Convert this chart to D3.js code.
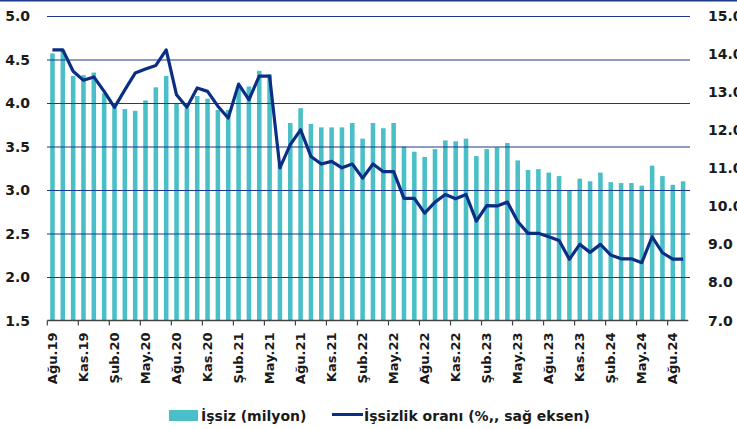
<!DOCTYPE html>
<html>
<head>
<meta charset="utf-8">
<script src="https://cdn.jsdelivr.net/npm/d3@7"></script>
<style>
  body { margin: 0; background: #fff; }
  svg { display: block; font-family: "DejaVu Sans", sans-serif; }
</style>
</head>
<body>
<script>
// months, Ağu.19 .. Eyl.24
var months = [
    "Ağu.19", "Eyl.19", "Eki.19", "Kas.19", "Ara.19", "Oca.20", "Şub.20", "Mar.20", "Nis.20", "May.20", "Haz.20", "Tem.20",
    "Ağu.20", "Eyl.20", "Eki.20", "Kas.20", "Ara.20", "Oca.21", "Şub.21", "Mar.21", "Nis.21", "May.21", "Haz.21", "Tem.21",
    "Ağu.21", "Eyl.21", "Eki.21", "Kas.21", "Ara.21", "Oca.22", "Şub.22", "Mar.22", "Nis.22", "May.22", "Haz.22", "Tem.22",
    "Ağu.22", "Eyl.22", "Eki.22", "Kas.22", "Ara.22", "Oca.23", "Şub.23", "Mar.23", "Nis.23", "May.23", "Haz.23", "Tem.23",
    "Ağu.23", "Eyl.23", "Eki.23", "Kas.23", "Ara.23", "Oca.24", "Şub.24", "Mar.24", "Nis.24", "May.24", "Haz.24", "Tem.24",
    "Ağu.24", "Eyl.24"
];

// unemployed, million (left axis)
var unemployed = [
    4.57, 4.61, 4.31, 4.32, 4.35, 4.11, 3.95, 3.93, 3.91, 4.03, 4.18, 4.31,
    4.00, 3.94, 4.08, 4.05, 3.92, 3.92, 4.20, 4.19, 4.37, 4.33, 3.30, 3.77,
    3.94, 3.76, 3.72, 3.72, 3.72, 3.77, 3.59, 3.77, 3.71, 3.77, 3.50, 3.44,
    3.38, 3.47, 3.57, 3.56, 3.59, 3.39, 3.47, 3.49, 3.54, 3.34, 3.23, 3.24,
    3.20, 3.16, 2.99, 3.13, 3.10, 3.20, 3.09, 3.08, 3.08, 3.05, 3.28, 3.16,
    3.06, 3.10
];

// unemployment rate, % (right axis)
var rate = [
    14.11, 14.11, 13.55, 13.31, 13.40, 13.02, 12.60, 13.06, 13.50, 13.61, 13.70, 14.11,
    12.93, 12.60, 13.11, 13.02, 12.63, 12.32, 13.21, 12.80, 13.42, 13.42, 11.01, 11.62,
    12.01, 11.31, 11.11, 11.18, 11.01, 11.11, 10.74, 11.11, 10.91, 10.91, 10.21, 10.21,
    9.82, 10.11, 10.31, 10.20, 10.31, 9.61, 10.02, 10.01, 10.11, 9.60, 9.29, 9.29,
    9.20, 9.10, 8.61, 9.00, 8.79, 9.00, 8.72, 8.62, 8.62, 8.52, 9.20, 8.78,
    8.61, 8.61
];

var leftTicks = [1.5, 2.0, 2.5, 3.0, 3.5, 4.0, 4.5, 5.0];
var rightTicks = [7, 8, 9, 10, 11, 12, 13, 14, 15];

var width = 737,
    height = 429;

var barColor = "#4bbfc7",
    lineColor = "#0a2e84",
    gridColor = "#1c3a8c";

var svg = d3.select("body").append("svg")
    .attr("width", width)
    .attr("height", height);

var x = d3.scaleBand()
    .domain(months)
    .range([47.3, 688.3])
    .paddingInner(0.56)
    .paddingOuter(0.28);

var yL = d3.scaleLinear().domain([1.5, 5]).range([320.5, 16]);
var yR = d3.scaleLinear().domain([7, 15]).range([320.5, 16]);

// top border
svg.append("line")
    .attr("x1", 0).attr("x2", width)
    .attr("y1", 0.5).attr("y2", 0.5)
    .style("stroke", gridColor)
    .style("stroke-width", 2);

// bars
var data = months.map(function(m, i) {
    return { month: m, u: unemployed[i], r: rate[i] };
});

svg.selectAll("rect.bar")
    .data(data)
    .enter().append("rect")
    .attr("class", "bar")
    .attr("x", function(d) { return x(d.month); })
    .attr("width", x.bandwidth())
    .attr("y", function(d) { return yL(d.u); })
    .attr("height", function(d) { return yL(1.5) - yL(d.u); })
    .style("fill", barColor);

// gridlines over the bars
svg.append("g")
    .attr("transform", "translate(47,0)")
    .call(d3.axisLeft(yL).tickValues(leftTicks.slice(1)).tickSize(-643).tickFormat(""))
    .call(function(g) {
        g.select(".domain").remove();
        g.selectAll(".tick line")
            .style("stroke", gridColor)
            .style("stroke-width", 1.2);
    });

// left labels
svg.append("g")
    .selectAll("text")
    .data(leftTicks)
    .enter().append("text")
    .attr("x", 30)
    .attr("y", function(d) { return yL(d); })
    .attr("dy", "0.36em")
    .attr("text-anchor", "end")
    .attr("font-size", "14px")
    .attr("font-weight", "bold")
    .attr("fill", "#1a1a1a")
    .text(function(d) { return d3.format(".1f")(d); });

// right labels (cut at the right edge, like the original)
svg.append("g")
    .selectAll("text")
    .data(rightTicks)
    .enter().append("text")
    .attr("x", 708)
    .attr("y", function(d) { return yR(d); })
    .attr("dy", "0.36em")
    .attr("text-anchor", "start")
    .attr("font-size", "14px")
    .attr("font-weight", "bold")
    .attr("fill", "#1a1a1a")
    .text(function(d) { return d3.format(".1f")(d); });

// bottom axis, ticks between categories every 3 months
var tickMonths = months.filter(function(m, i) { return i % 3 === 0; });

var xAxis = svg.append("g")
    .attr("transform", "translate(0,320.5)");

xAxis.append("line")
    .attr("x1", 47.3).attr("x2", 688.3)
    .style("stroke", "#444")
    .style("stroke-width", 1.5);

xAxis.selectAll("line.tick")
    .data(tickMonths)
    .enter().append("line")
    .attr("class", "tick")
    .attr("x1", function(d) { return x(d) - x.step() * x.paddingInner() / 2; })
    .attr("x2", function(d) { return x(d) - x.step() * x.paddingInner() / 2; })
    .attr("y1", 0).attr("y2", 5)
    .style("stroke", "#444")
    .style("stroke-width", 1.2);

xAxis.selectAll("text")
    .data(tickMonths)
    .enter().append("text")
    .attr("transform", function(d) {
        return "translate(" + (x(d) + x.bandwidth() / 2) + ",12) rotate(-90)";
    })
    .attr("dy", "0.36em")
    .attr("text-anchor", "end")
    .attr("font-size", "13px")
    .attr("font-weight", "bold")
    .attr("fill", "#1a1a1a")
    .text(function(d) { return d; });

// rate line
var line = d3.line()
    .x(function(d) { return x(d.month) + x.bandwidth() / 2; })
    .y(function(d) { return yR(d.r); });

svg.append("path")
    .datum(data)
    .attr("d", line)
    .style("fill", "none")
    .style("stroke", lineColor)
    .style("stroke-width", 3.2)
    .style("stroke-linejoin", "round");

// legend
var legend = svg.append("g");

legend.append("rect")
    .attr("x", 169).attr("y", 410)
    .attr("width", 29).attr("height", 11)
    .style("fill", barColor);

legend.append("text")
    .attr("x", 201).attr("y", 421)
    .attr("font-size", "14px")
    .attr("font-weight", "bold")
    .attr("fill", "#1a1a1a")
    .text("İşsiz (milyon)");

legend.append("line")
    .attr("x1", 332).attr("x2", 363)
    .attr("y1", 414.5).attr("y2", 414.5)
    .style("stroke", lineColor)
    .style("stroke-width", 3);

legend.append("text")
    .attr("x", 364).attr("y", 421)
    .attr("font-size", "14px")
    .attr("font-weight", "bold")
    .attr("fill", "#1a1a1a")
    .text("İşsizlik oranı (%,, sağ eksen)");
</script>
</body>
</html>
